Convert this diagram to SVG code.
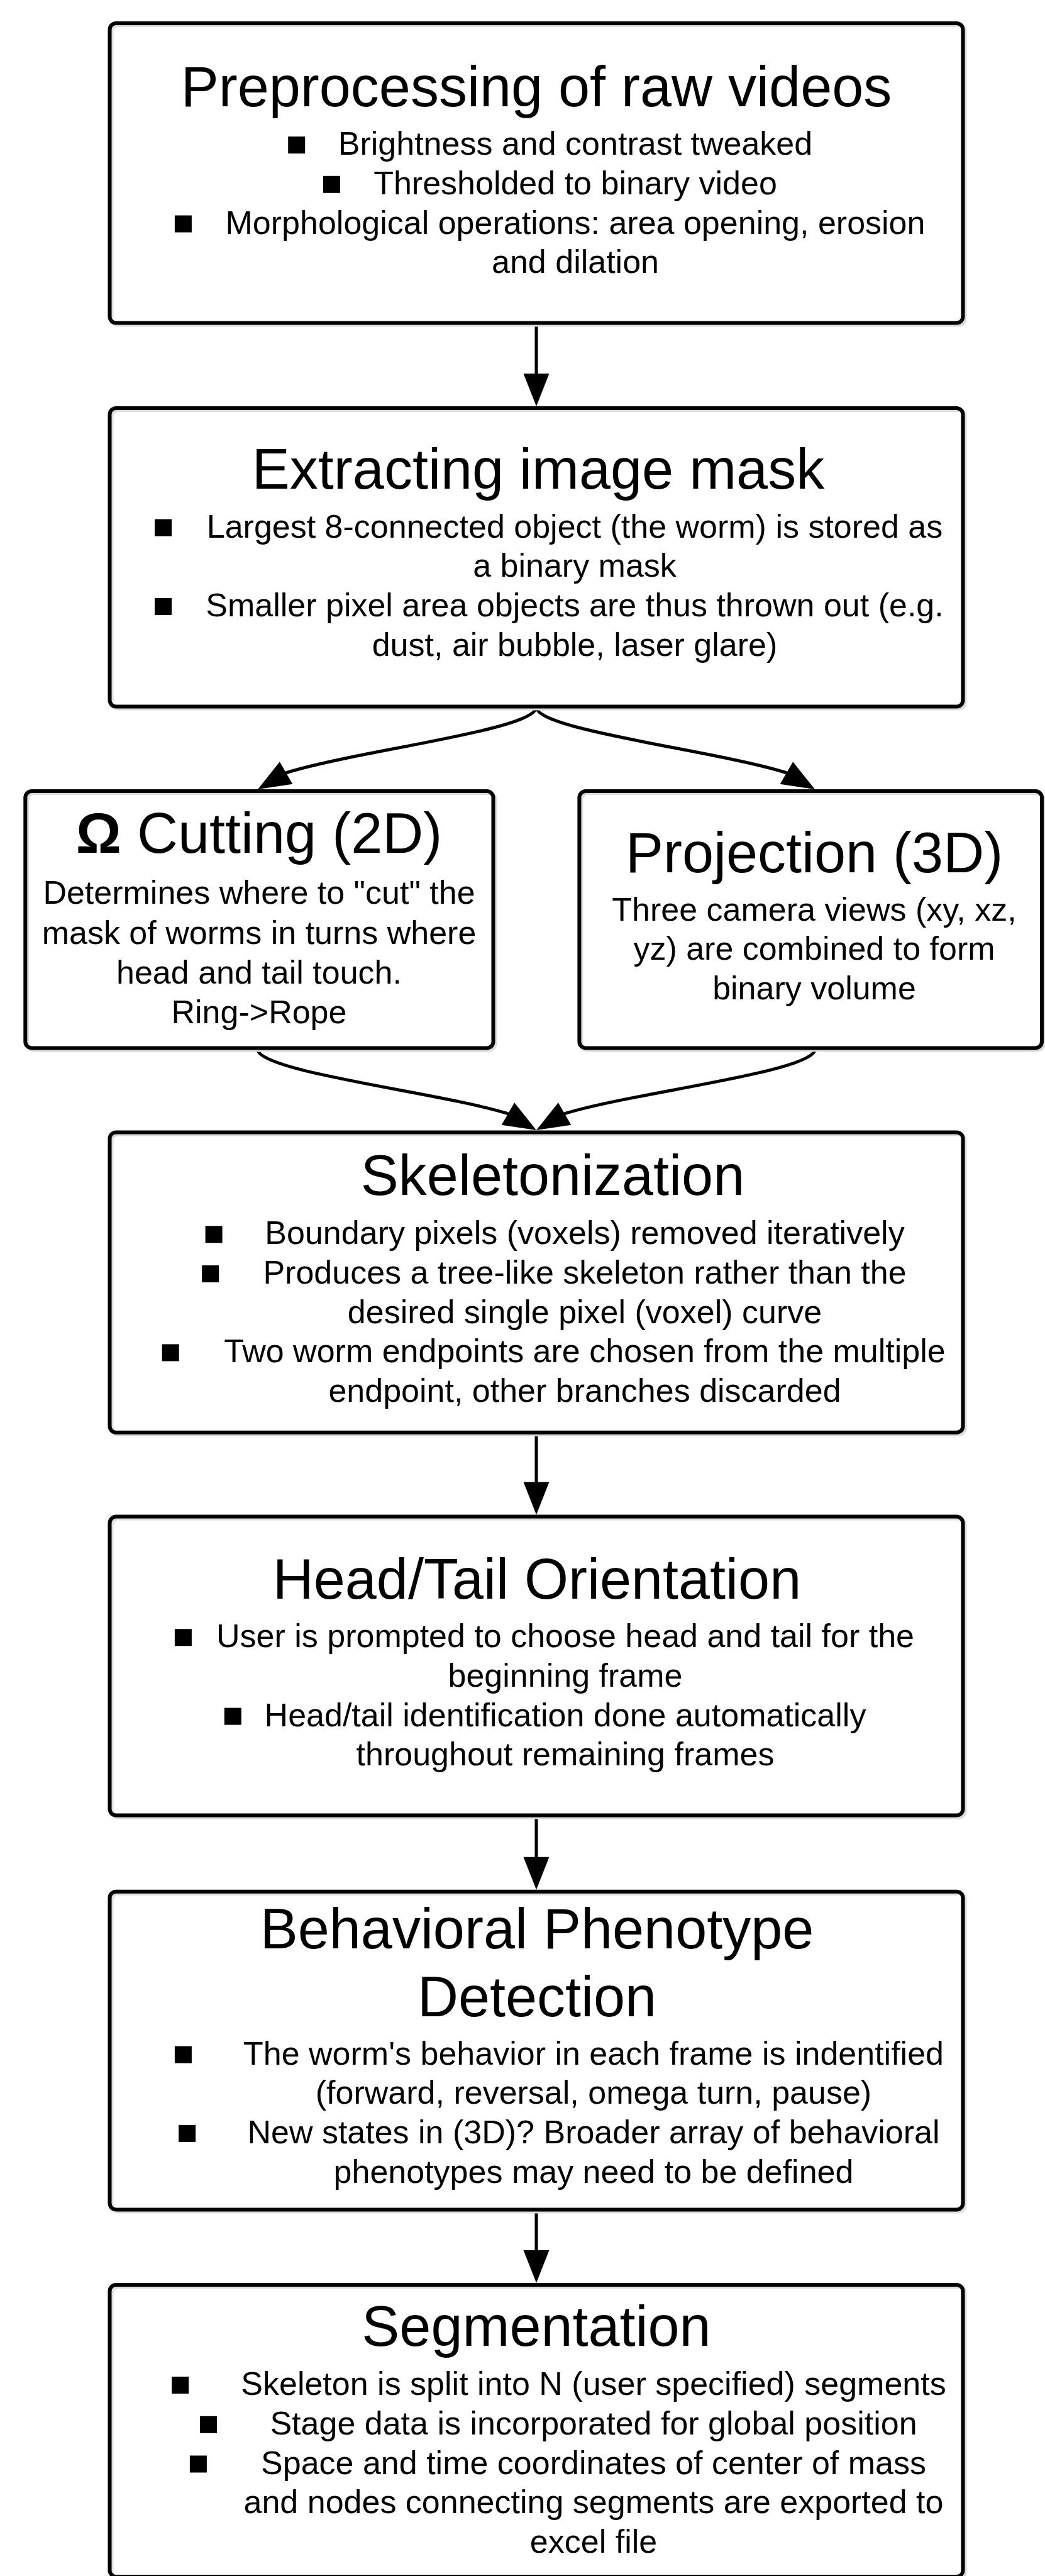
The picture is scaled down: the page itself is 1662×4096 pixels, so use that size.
<svg xmlns="http://www.w3.org/2000/svg" width="1662" height="4096" viewBox="0 0 1662 4096">
<defs>
<style>
.fill{fill:#fff;stroke:none}
.shadow{fill:none;stroke:#dcdcdc;stroke-width:6}
.border{fill:none;stroke:#000;stroke-width:6}
text{font-family:"Liberation Sans",Arial,Helvetica,sans-serif;fill:#000;text-anchor:middle}
.title{font-size:90px}
.body{font-size:52px}
.bullet{fill:#000}
.conn{fill:none;stroke:#000;stroke-width:5;marker-end:url(#ah)}
</style>
<marker id="ah" markerUnits="userSpaceOnUse" orient="auto" markerWidth="60" markerHeight="50" viewBox="0 0 60 50" refX="45" refY="20.5" overflow="visible">
<path d="M0,0 L52,20.5 L0,41 Z" fill="#000"/>
</marker>
</defs>
<rect x="0" y="0" width="1662" height="4096" fill="#fff"/>

<g id="connectors">
<path class="conn" d="M853,513.5 L853,639"/>
<path class="conn" d="M853,1124 C853,1160.8 569.5,1193.1 456,1228.5 L416.1,1251.5"/>
<path class="conn" d="M853,1124 C853,1160.8 1136.5,1193.1 1250,1228.5 L1289.9,1251.5"/>
<path class="conn" d="M409,1667 C409,1704.8 693.2,1735.8 806.8,1770.4 L846.9,1793.5"/>
<path class="conn" d="M1297,1667 C1297,1704.8 1012.8,1735.8 899.2,1770.4 L859.1,1793.5"/>
<path class="conn" d="M853,2277.7 L853,2401.6"/>
<path class="conn" d="M853,2886.6 L853,2997.8"/>
<path class="conn" d="M853,3513.4 L853,3623"/>
</g>

<g id="node-preprocessing">
<rect class="fill" x="174.5" y="37" width="1357" height="476.5" rx="10"/>
<rect class="shadow" x="177.5" y="40" width="1357" height="476.5" rx="10"/>
<rect class="border" x="174.5" y="37" width="1357" height="476.5" rx="10"/>
<text class="title" x="853" y="168.7">Preprocessing of raw videos</text>
<rect class="bullet" x="458.2" y="217.1" width="27" height="27"/>
<text class="body" x="915" y="246.1">Brightness and contrast tweaked</text>
<rect class="bullet" x="513.9" y="279.8" width="27" height="27"/>
<text class="body" x="915" y="308.8">Thresholded to binary video</text>
<rect class="bullet" x="277.9" y="342.5" width="27" height="27"/>
<text class="body" x="915" y="371.5">Morphological operations: area opening, erosion</text>
<text class="body" x="915" y="434.2">and dilation</text>
</g>

<g id="node-extracting">
<rect class="fill" x="174.5" y="649" width="1357" height="474.6" rx="10"/>
<rect class="shadow" x="177.5" y="652" width="1357" height="474.6" rx="10"/>
<rect class="border" x="174.5" y="649" width="1357" height="474.6" rx="10"/>
<text class="title" x="856" y="777">Extracting image mask</text>
<rect class="bullet" x="246.1" y="825.5" width="27" height="27"/>
<text class="body" x="914" y="854.5">Largest 8-connected object (the worm) is stored as</text>
<text class="body" x="914" y="917.2">a binary mask</text>
<rect class="bullet" x="246.1" y="950.9" width="27" height="27"/>
<text class="body" x="914" y="979.9">Smaller pixel area objects are thus thrown out (e.g.</text>
<text class="body" x="914" y="1042.6">dust, air bubble, laser glare)</text>
</g>

<g id="node-cutting">
<rect class="fill" x="40.3" y="1258.1" width="744.2" height="408.3" rx="10"/>
<rect class="shadow" x="43.3" y="1261.1" width="744.2" height="408.3" rx="10"/>
<rect class="border" x="40.3" y="1258.1" width="744.2" height="408.3" rx="10"/>
<text class="title" x="412" y="1356"><tspan font-weight="bold">Ω</tspan> Cutting (2D)</text>
<text class="body" x="412" y="1437.3">Determines where to "cut" the</text>
<text class="body" x="412" y="1500.8">mask of worms in turns where</text>
<text class="body" x="412" y="1563.5">head and tail touch.</text>
<text class="body" x="412" y="1627">Ring-&gt;Rope</text>
</g>

<g id="node-projection">
<rect class="fill" x="921.4" y="1258.1" width="735.6" height="408.3" rx="10"/>
<rect class="shadow" x="924.4" y="1261.1" width="735.6" height="408.3" rx="10"/>
<rect class="border" x="921.4" y="1258.1" width="735.6" height="408.3" rx="10"/>
<text class="title" x="1295" y="1387">Projection (3D)</text>
<text class="body" x="1295" y="1463.6">Three camera views (xy, xz,</text>
<text class="body" x="1295" y="1526.3">yz) are combined to form</text>
<text class="body" x="1295" y="1589">binary volume</text>
</g>

<g id="node-skeletonization">
<rect class="fill" x="174.5" y="1800.5" width="1357" height="477.2" rx="10"/>
<rect class="shadow" x="177.5" y="1803.5" width="1357" height="477.2" rx="10"/>
<rect class="border" x="174.5" y="1800.5" width="1357" height="477.2" rx="10"/>
<text class="title" x="879" y="1900">Skeletonization</text>
<rect class="bullet" x="326.6" y="1949.3" width="27" height="27"/>
<text class="body" x="930" y="1978.3">Boundary pixels (voxels) removed iteratively</text>
<rect class="bullet" x="321.2" y="2012" width="27" height="27"/>
<text class="body" x="930" y="2041">Produces a tree-like skeleton rather than the</text>
<text class="body" x="930" y="2103.7">desired single pixel (voxel) curve</text>
<rect class="bullet" x="257.7" y="2137.4" width="27" height="27"/>
<text class="body" x="930" y="2166.4">Two worm endpoints are chosen from the multiple</text>
<text class="body" x="930" y="2229.1">endpoint, other branches discarded</text>
</g>

<g id="node-headtail">
<rect class="fill" x="174.5" y="2411.6" width="1357" height="475" rx="10"/>
<rect class="shadow" x="177.5" y="2414.6" width="1357" height="475" rx="10"/>
<rect class="border" x="174.5" y="2411.6" width="1357" height="475" rx="10"/>
<text class="title" x="854" y="2542">Head/Tail Orientation</text>
<rect class="bullet" x="277.9" y="2590.2" width="27" height="27"/>
<text class="body" x="899" y="2619.2">User is prompted to choose head and tail for the</text>
<text class="body" x="899" y="2681.9">beginning frame</text>
<rect class="bullet" x="356.8" y="2715.6" width="27" height="27"/>
<text class="body" x="899" y="2744.6">Head/tail identification done automatically</text>
<text class="body" x="899" y="2807.3">throughout remaining frames</text>
</g>

<g id="node-behavioral">
<rect class="fill" x="174.5" y="3007.8" width="1357" height="505.6" rx="10"/>
<rect class="shadow" x="177.5" y="3010.8" width="1357" height="505.6" rx="10"/>
<rect class="border" x="174.5" y="3007.8" width="1357" height="505.6" rx="10"/>
<text class="title" x="854" y="3098.3">Behavioral Phenotype</text>
<text class="title" x="854" y="3205.9">Detection</text>
<rect class="bullet" x="277.9" y="3253.5" width="27" height="27"/>
<text class="body" x="944" y="3282.5">The worm's behavior in each frame is indentified</text>
<text class="body" x="944" y="3345.2">(forward, reversal, omega turn, pause)</text>
<rect class="bullet" x="284.1" y="3378.9" width="27" height="27"/>
<text class="body" x="944" y="3407.9">New states in (3D)? Broader array of behavioral</text>
<text class="body" x="944" y="3470.6">phenotypes may need to be defined</text>
</g>

<g id="node-segmentation">
<rect class="fill" x="174.5" y="3633" width="1357" height="464" rx="10"/>
<rect class="shadow" x="177.5" y="3636" width="1357" height="464" rx="10"/>
<rect class="border" x="174.5" y="3633" width="1357" height="464" rx="10"/>
<text class="title" x="853" y="3730">Segmentation</text>
<rect class="bullet" x="273.2" y="3779" width="27" height="27"/>
<text class="body" x="944" y="3808">Skeleton is split into N (user specified) segments</text>
<rect class="bullet" x="318.1" y="3841.8" width="27" height="27"/>
<text class="body" x="944" y="3870.8">Stage data is incorporated for global position</text>
<rect class="bullet" x="301.9" y="3904.5" width="27" height="27"/>
<text class="body" x="944" y="3933.5">Space and time coordinates of center of mass</text>
<text class="body" x="944" y="3996.2">and nodes connecting segments are exported to</text>
<text class="body" x="944" y="4058.9">excel file</text>
</g>
</svg>
